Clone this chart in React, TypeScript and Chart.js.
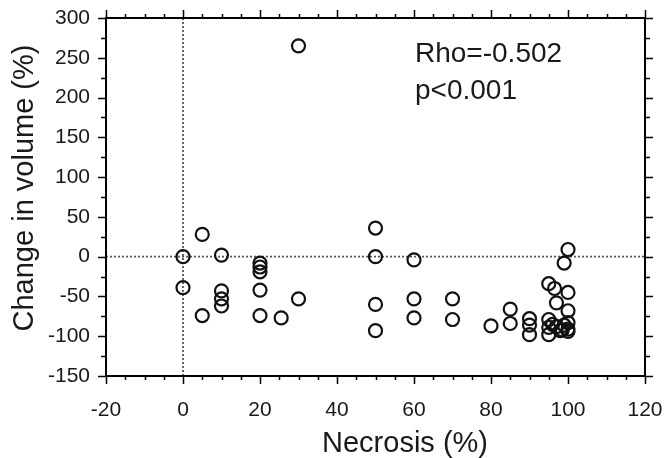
import React, { useEffect, useRef } from "react";
import { Chart, registerables } from "chart.js";

Chart.register(...registerables);

// Data
const necrosis = [0, 0, 5, 5, 10, 10, 10, 10, 20, 20, 20, 20, 20, 25.5, 30, 30, 50, 50, 50, 50, 60, 60, 60, 70, 70, 80, 85, 85, 90, 90, 90, 95, 95, 95, 95, 96.5, 97, 97, 98, 99, 99, 100, 100, 100, 100, 100, 100, 98.5, 96];
const volume = [0, -39, 28, -74, 2, -43, -53, -62, -8, -13, -19, -42, -74, -77, -53, 265, 36, 0, -60, -93, -4, -53, -77, -53, -79, -87, -66, -84, -78, -86, -98, -34, -79, -89, -98, -40, -58, -88, -93, -8, -86, 9, -45, -68, -83, -91, -94, -92, -85];
const xTicks = [-20, 0, 20, 40, 60, 80, 100, 120];
const yTicks = [-150, -100, -50, 0, 50, 100, 150, 200, 250, 300];
const xTitle = "Necrosis (%)";
const yTitle = "Change in volume (%)";
const statLines = ["Rho=-0.502", "p<0.001"];

const FONT = '"Liberation Sans", Arial, sans-serif';

const framePlugin = {
  id: "frame",
  beforeDatasetsDraw(chart: any) {
    const { ctx, chartArea: a, scales } = chart;
    const x0 = scales.x.getPixelForValue(0);
    const y0 = scales.y.getPixelForValue(0);
    ctx.save();
    ctx.strokeStyle = "#555";
    ctx.lineWidth = 1.8;
    ctx.setLineDash([2, 2]);
    ctx.beginPath();
    ctx.moveTo(x0, a.top);
    ctx.lineTo(x0, a.bottom);
    ctx.moveTo(a.left, y0);
    ctx.lineTo(a.right, y0);
    ctx.stroke();
    ctx.restore();
  },
  afterDraw(chart: any) {
    const { ctx, chartArea: a, scales } = chart;
    const xs = scales.x;
    const ys = scales.y;
    ctx.save();
    ctx.strokeStyle = "#000";
    ctx.setLineDash([]);
    // frame
    ctx.lineWidth = 2;
    ctx.strokeRect(a.left, a.top, a.right - a.left, a.bottom - a.top);
    ctx.lineWidth = 1.5;
    ctx.beginPath();
    // x ticks (bottom outward, top outward)
    for (let v = xs.min; v <= xs.max + 0.001; v += 5) {
      const px = Math.round(xs.getPixelForValue(v)) + 0.5;
      const major = Math.abs(v % 20) < 0.001;
      const len = major ? 8 : 4;
      ctx.moveTo(px, a.bottom);
      ctx.lineTo(px, a.bottom + len);
      ctx.moveTo(px, a.top);
      ctx.lineTo(px, a.top - len);
    }
    // y ticks (left outward, right outward)
    for (let v = ys.min; v <= ys.max + 0.001; v += 25) {
      const py = Math.round(ys.getPixelForValue(v)) + 0.5;
      const major = Math.abs(v % 50) < 0.001;
      const len = major ? 8 : 5;
      ctx.moveTo(a.left, py);
      ctx.lineTo(a.left - len, py);
      ctx.moveTo(a.right, py);
      ctx.lineTo(a.right + len, py);
    }
    ctx.stroke();

    // axis titles
    ctx.fillStyle = "#1a1a1a";
    ctx.font = `29px ${FONT}`;
    ctx.textAlign = "center";
    ctx.textBaseline = "alphabetic";
    ctx.fillText(xTitle, 405, 452);
    ctx.save();
    ctx.translate(33, 188);
    ctx.rotate(-Math.PI / 2);
    ctx.fillText(yTitle, 0, 0);
    ctx.restore();

    // stats annotation
    ctx.font = `28px ${FONT}`;
    ctx.textAlign = "left";
    ctx.fillText(statLines[0], 415, 62);
    ctx.fillText(statLines[1], 415, 99);
    ctx.restore();
  },
};

const noOverhang = (s: any) => {
  s.paddingTop = 0;
  s.paddingBottom = 0;
  s.paddingLeft = 0;
  s.paddingRight = 0;
};

export default function App() {
  const ref = useRef<HTMLCanvasElement>(null);
  useEffect(() => {
    if (!ref.current) return;
    const chart = new Chart(ref.current, {
      type: "scatter",
      data: {
        datasets: [
          {
            data: necrosis.map((x, i) => ({ x, y: volume[i] })),
            pointStyle: "circle",
            pointRadius: 6.5,
            pointHoverRadius: 6.5,
            pointBorderWidth: 2.2,
            borderColor: "#111",
            backgroundColor: "rgba(0,0,0,0)",
          },
        ],
      },
      options: {
        responsive: false,
        animation: false,
        events: [],
        layout: { padding: { top: 18, right: 23, left: 0, bottom: 0 } },
        plugins: { legend: { display: false }, tooltip: { enabled: false } },
        scales: {
          x: {
            type: "linear",
            min: -20,
            max: 120,
            afterBuildTicks: (s: any) => {
              s.ticks = xTicks.map((v) => ({ value: v }));
            },
            afterFit: (s: any) => {
              s.height = 82;
              noOverhang(s);
            },
            grid: { display: false, drawTicks: false },
            border: { display: false },
            ticks: {
              color: "#1a1a1a",
              font: { family: FONT, size: 21 },
              padding: 22,
              maxRotation: 0,
            },
          },
          y: {
            type: "linear",
            min: -150,
            max: 300,
            afterBuildTicks: (s: any) => {
              s.ticks = yTicks.map((v) => ({ value: v }));
            },
            afterFit: (s: any) => {
              s.width = 106;
              noOverhang(s);
            },
            grid: { display: false, drawTicks: false },
            border: { display: false },
            ticks: {
              color: "#1a1a1a",
              font: { family: FONT, size: 21 },
              padding: 16,
            },
          },
        },
      },
      plugins: [framePlugin],
    });
    return () => chart.destroy();
  }, []);
  return (
    <div style={{ position: "fixed", left: 0, top: 0, width: 668, height: 458, background: "#fff" }}>
      <canvas ref={ref} width={668} height={458} style={{ display: "block" }} />
    </div>
  );
}
